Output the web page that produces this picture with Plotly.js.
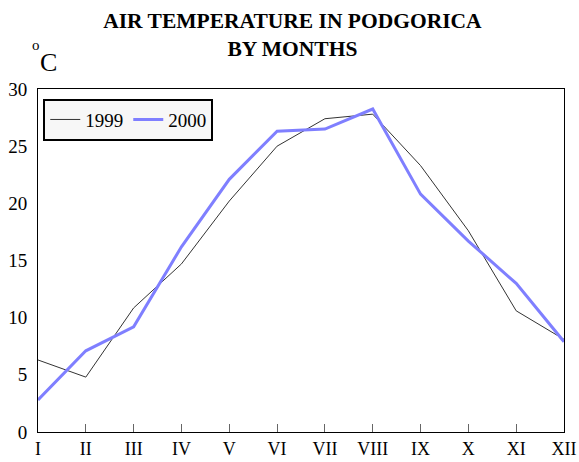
<!DOCTYPE html>
<html>
<head>
<meta charset="utf-8">
<script src="https://cdn.plot.ly/plotly-3.0.1.min.js"></script>
<style>html,body{margin:0;padding:0;background:#fff;}#chart{width:579px;height:462px;}</style>
</head>
<body>
<div id="chart"></div>
<script>
const months = ["I","II","III","IV","V","VI","VII","VIII","IX","X","XI","XII"];
const temp1999 = [6.3, 4.8, 10.85, 14.7, 20.2, 25.0, 27.4, 27.8, 23.3, 17.6, 10.6, 8.1];
const temp2000 = [2.8, 7.1, 9.2, 16.2, 22.1, 26.3, 26.5, 28.25, 20.8, 16.7, 13.0, 7.9];
const yTicks = [0, 5, 10, 15, 20, 25, 30];

const serif = "Liberation Serif, Times New Roman, serif";

const data = [
  {x: months, y: temp1999, type: "scatter", mode: "lines", name: "1999",
   line: {color: "#333333", width: 1}},
  {x: months, y: temp2000, type: "scatter", mode: "lines", name: "2000",
   line: {color: "#7f7fff", width: 3}}
];

const layout = {
  width: 579, height: 462,
  margin: {l: 38, r: 15, t: 89, b: 30, pad: 0},
  paper_bgcolor: "#ffffff", plot_bgcolor: "#ffffff",
  showlegend: true,
  title: {text: "<b>AIR TEMPERATURE IN PODGORICA<br>BY MONTHS</b>",
          font: {family: serif, size: 21.5, color: "#000"},
          xref: "container", yref: "container",
          x: 0.505, xanchor: "center", y: 0.94, yanchor: "top"},
  xaxis: {type: "category", range: [0, 11], showgrid: false, zeroline: false,
          showline: true, linecolor: "#000", linewidth: 1, mirror: true,
          ticks: "inside", ticklen: 8, tickcolor: "#666", tickwidth: 1,
          tickfont: {family: serif, size: 18, color: "#000"}, fixedrange: true},
  yaxis: {range: [0, 30], tickvals: yTicks, ticktext: yTicks.map(String),
          showgrid: false, zeroline: false,
          showline: true, linecolor: "#000", linewidth: 1, mirror: true,
          ticks: "", ticklabelstandoff: 6,
          tickfont: {family: serif, size: 19, color: "#000"}, fixedrange: true},
  legend: {orientation: "h", x: 0.01, y: 0.972, xanchor: "left", yanchor: "top",
           bgcolor: "#f7f7f7", bordercolor: "#000", borderwidth: 2,
           font: {family: serif, size: 19, color: "#000"}, itemwidth: 30,
           tracegroupgap: 0},
  annotations: [
    {text: "o", xref: "paper", yref: "paper", x: (35.5-38)/526, y: (432-45)/343,
     xanchor: "center", yanchor: "middle",
     showarrow: false, font: {family: serif, size: 15, color: "#000"}},
    {text: "C", xref: "paper", yref: "paper", x: (48.5-38)/526, y: (432-62.5)/343,
     xanchor: "center", yanchor: "middle",
     showarrow: false, font: {family: serif, size: 26, color: "#000"}}
  ]
};

Plotly.newPlot("chart", data, layout, {displayModeBar: false, staticPlot: true});
</script>
</body>
</html>
